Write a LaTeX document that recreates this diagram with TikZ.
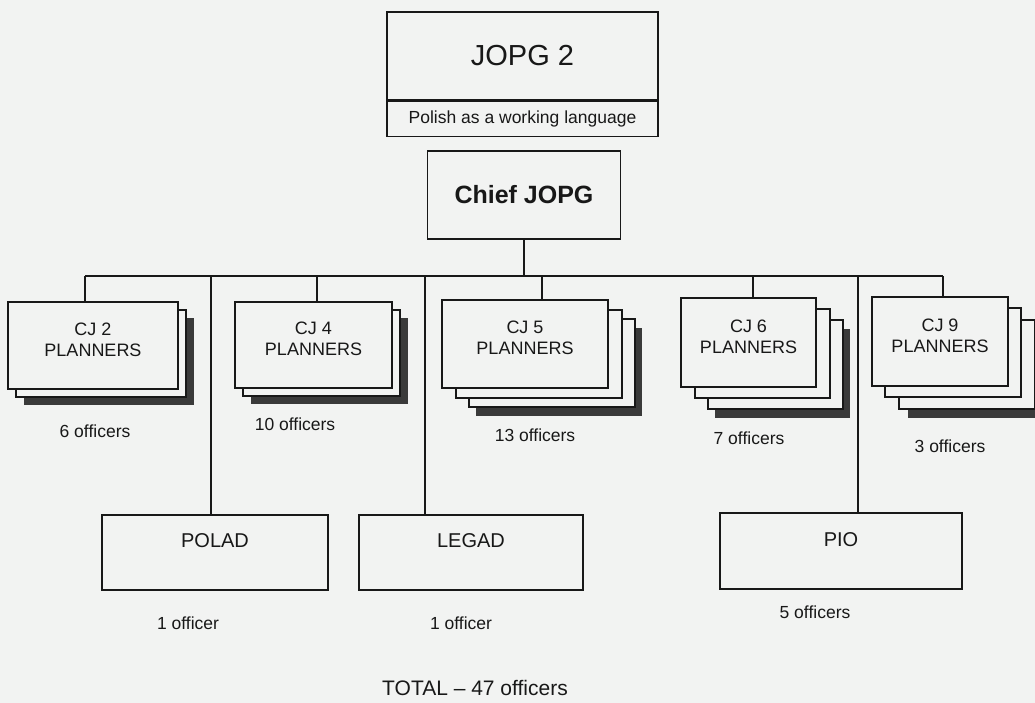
\documentclass[tikz,border=0pt]{standalone}
\usepackage{fontspec}
\setmainfont{Liberation Sans}
\definecolor{paper}{RGB}{242,243,242}
\definecolor{ink}{RGB}{24,24,24}
\definecolor{smudge}{RGB}{58,58,58}

\tikzset{
  box/.style 2 args={draw=ink, fill=paper, line width=1.5pt, minimum width=#1, minimum height=#2, inner sep=0pt, text=ink},
  backing/.style 2 args={fill=smudge, minimum width=#1, minimum height=#2, inner sep=0pt},
  cjtext/.style={align=center, font=\fontsize{18}{21}\selectfont, text=ink, yshift=6pt},
  lowtext/.style={font=\fontsize{20}{24}\selectfont, text=ink, yshift=12pt},
  count/.style={font=\fontsize{17.5}{20}\selectfont, text=ink},
  wire/.style={draw=ink, line width=1.5pt}
}

\begin{document}
\begin{tikzpicture}[x=1pt,y=-1pt]
\fill[paper] (0,0) rectangle (1035,703);
\useasboundingbox (0,0) rectangle (1035,703);

% head of the group
\node[box={271}{88}, font=\fontsize{29}{33}\selectfont] (jopg) at (522.5,56) {JOPG 2};
\node[box={271}{35}, font=\fontsize{17.5}{20}\selectfont, anchor=north] (lang) at (jopg.south) {Polish as a working language};
\node[box={193}{88}, font=\bfseries\fontsize{25}{29}\selectfont] (chief) at (524,195) {Chief JOPG};

% CJ 2
\node[backing={170}{87}] (cj2s) at (109,361.5) {};
\node[box={170}{87}] (cj2a) at (101,353.5) {};
\node[box={170}{87}, label={[cjtext]center:{CJ 2\\PLANNERS}}] (cj2) at (93,345.5) {};
% CJ 4
\node[backing={157}{86}] (cj4s) at (329.5,361) {};
\node[box={157}{86}] (cj4a) at (321.5,353) {};
\node[box={157}{86}, label={[cjtext]center:{CJ 4\\PLANNERS}}] (cj4) at (313.5,345) {};
% CJ 5
\node[backing={166}{88}] (cj5s) at (559,372) {};
\node[box={166}{88}] (cj5b) at (552,363) {};
\node[box={166}{88}] (cj5a) at (539,354) {};
\node[box={166}{88}, label={[cjtext]center:{CJ 5\\PLANNERS}}] (cj5) at (525,344) {};
% CJ 6
\node[backing={135}{89}] (cj6s) at (782.5,373.5) {};
\node[box={135}{89}] (cj6b) at (775.5,364.5) {};
\node[box={135}{89}] (cj6a) at (762.5,353.5) {};
\node[box={135}{89}, label={[cjtext]center:{CJ 6\\PLANNERS}}] (cj6) at (748.5,342.5) {};
% CJ 9
\node[backing={136}{89}] (cj9s) at (976,373.5) {};
\node[box={136}{89}] (cj9b) at (967,364.5) {};
\node[box={136}{89}] (cj9a) at (953,352.5) {};
\node[box={136}{89}, label={[cjtext]center:{CJ 9\\PLANNERS}}] (cj9) at (940,341.5) {};

% officers per cell
\node[count] (n2) at (95,431) {6 officers};
\node[count] (n4) at (295,424) {10 officers};
\node[count] (n5) at (535,435) {13 officers};
\node[count] (n6) at (749,438) {7 officers};
\node[count] (n9) at (950,446) {3 officers};

% advisers
\node[box={226}{75}, label={[lowtext]center:POLAD}] (polad) at (215,552.5) {};
\node[box={224}{75}, label={[lowtext]center:LEGAD}] (legad) at (471,552.5) {};
\node[box={242}{76}, label={[lowtext,yshift=-1pt]center:PIO}] (pio) at (841,551) {};
\node[count] (npolad) at (188,623) {1 officer};
\node[count] (nlegad) at (461,623) {1 officer};
\node[count] (npio) at (815,612) {5 officers};

\node[font=\fontsize{21}{25}\selectfont, text=ink] (total) at (475,688) {TOTAL -- 47 officers};

% connectors
\coordinate (busL) at (85,276);
\coordinate (busR) at (943,276);
\coordinate (t4) at (317,276);
\coordinate (t5) at (542,276);
\coordinate (t6) at (753,276);
\coordinate (tpolad) at (211,276);
\coordinate (tlegad) at (425,276);
\coordinate (tpio) at (858,276);
\draw[wire] (busL) -- (busR);
\draw[wire] (chief.south) -- (chief.south |- busL);
\draw[wire] (busL) -- (busL |- cj2.north);
\draw[wire] (t4) -- (t4 |- cj4.north);
\draw[wire] (t5) -- (t5 |- cj5.north);
\draw[wire] (t6) -- (t6 |- cj6.north);
\draw[wire] (busR) -- (busR |- cj9.north);
\draw[wire] (tpolad) -- (tpolad |- polad.north);
\draw[wire] (tlegad) -- (tlegad |- legad.north);
\draw[wire] (tpio) -- (tpio |- pio.north);
\end{tikzpicture}
\end{document}
